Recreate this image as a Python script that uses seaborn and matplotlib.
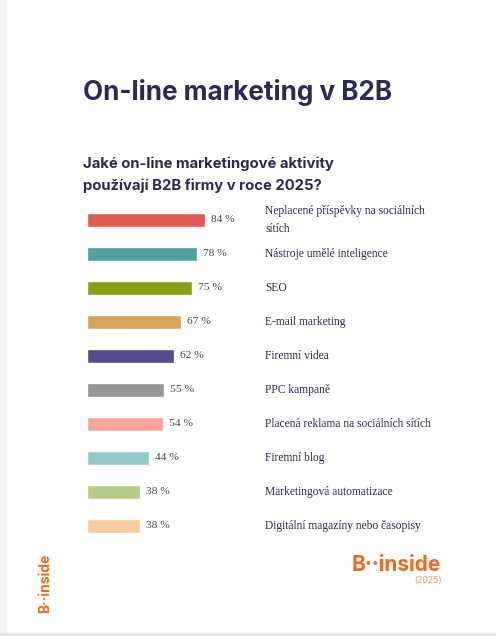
import matplotlib
matplotlib.use("Agg")
import matplotlib.pyplot as plt
import seaborn as sns
import pandas as pd
from matplotlib.patches import Rectangle

categories = ["Neplacené příspěvky na sociálních\nsítích", "Nástroje umělé inteligence", "SEO",
              "E-mail marketing", "Firemní videa", "PPC kampaně",
              "Placená reklama na sociálních sítích", "Firemní blog",
              "Marketingová automatizace", "Digitální magazíny nebo časopisy"]
values = [84, 78, 75, 67, 62, 55, 54, 44, 38, 38]
colors = ["#e05c50", "#50a0a0", "#8a9e14", "#d9a45c", "#574a8f", "#979696",
          "#f9a39a", "#93c9cb", "#b6cc88", "#f8cc9c"]

sns.set_theme(style="white")
navy = "#2b2a55"
W, H = 496, 636
fig = plt.figure(figsize=(W/100, H/100), dpi=100)
fig.patch.set_facecolor("white")
fig.add_artist(Rectangle((0, 0), 6/W, 1, transform=fig.transFigure, color="#f2f2f5", zorder=0))
fig.add_artist(Rectangle((0, 0), 1, 3/H, transform=fig.transFigure, color="#e8e8ea", zorder=0))

ax = fig.add_axes([87/W, (H-543)/H, 140.5/W, 340/H])
df = pd.DataFrame({"cat": categories, "val": values})
sns.barplot(data=df, x="val", y="cat", hue="cat", palette=colors, legend=False,
            ax=ax, width=14/34, saturation=1)
ax.set_xlim(0, 100)
ax.set_ylim(9.5, -0.5)
ax.axis("off")
for i, v in enumerate(values):
    ax.text(v + 4.3, i, f"{v} %", va="center", ha="left", fontsize=8.2,
            family="Liberation Serif", color="#444")
    ax.text(265/W, (H - (220 + 34*i))/H, categories[i], transform=fig.transFigure,
            va="center", ha="left", fontsize=8.3, family="Liberation Serif",
            color=navy, linespacing=1.65)

fig.text(83/W, 1-93/H, "On-line marketing v B2B", fontsize=18.8, fontweight="bold",
         color=navy, va="center", family="Inter")
fig.text(83/W, 1-164/H, "Jaké on-line marketingové aktivity", fontsize=10.7, fontweight="bold",
         color=navy, va="center", family="Inter")
fig.text(83/W, 1-186/H, "používají B2B firmy v roce 2025?", fontsize=10.7, fontweight="bold",
         color=navy, va="center", family="Inter")

orange = "#f26b1d"
fig.text(441/W, 1-565/H, "B··inside", fontsize=15, fontweight="bold", color=orange,
         ha="right", va="center", family="Inter")
fig.text(442/W, 1-580/H, "(2025)", fontsize=6, color="#f59a5a", ha="right", va="center")
fig.text(45/W, 1-583/H, "B··inside", fontsize=10, fontweight="bold", color=orange,
         rotation=90, ha="center", va="center", family="Inter")

fig.savefig("out.png", dpi=100)
